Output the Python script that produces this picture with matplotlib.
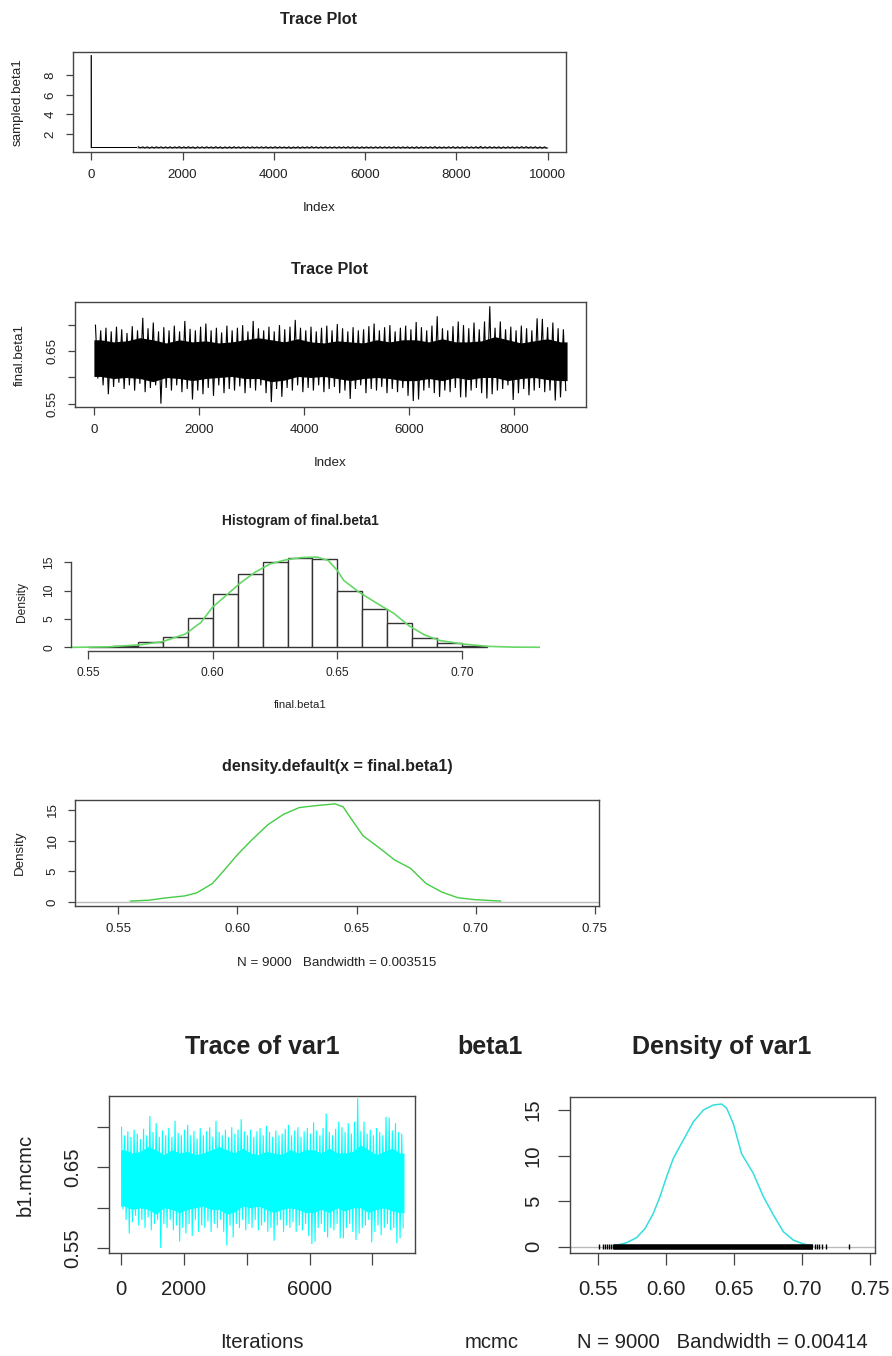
import numpy as np
import matplotlib
matplotlib.use('Agg')
import matplotlib.pyplot as plt

plt.rcParams['font.family'] = ['Liberation Sans', 'DejaVu Sans']

# ---------------- data ----------------
# MCMC trace of final.beta1 (9000 iterations): spike extremes per 100-iteration bin
trace_bin = 100
trace_hi = [0.700, 0.690, 0.695, 0.688, 0.697, 0.692, 0.685, 0.698, 0.690, 0.714,
            0.694, 0.705, 0.688, 0.696, 0.690, 0.699, 0.688, 0.708, 0.693, 0.690,
            0.697, 0.703, 0.690, 0.695, 0.686, 0.699, 0.690, 0.695, 0.700, 0.688,
            0.708, 0.694, 0.690, 0.697, 0.688, 0.700, 0.692, 0.697, 0.710, 0.695,
            0.690, 0.697, 0.688, 0.695, 0.699, 0.690, 0.702, 0.694, 0.688, 0.696,
            0.690, 0.692, 0.698, 0.703, 0.690, 0.696, 0.700, 0.688, 0.695, 0.699,
            0.692, 0.706, 0.696, 0.690, 0.699, 0.717, 0.694, 0.690, 0.698, 0.707,
            0.700, 0.694, 0.705, 0.692, 0.707, 0.736, 0.695, 0.707, 0.692, 0.697,
            0.690, 0.699, 0.694, 0.690, 0.713, 0.712, 0.696, 0.705, 0.694, 0.692]
trace_lo = [0.598, 0.585, 0.568, 0.582, 0.590, 0.578, 0.585, 0.575, 0.588, 0.572,
            0.580, 0.585, 0.550, 0.580, 0.575, 0.585, 0.572, 0.578, 0.558, 0.575,
            0.568, 0.580, 0.565, 0.585, 0.570, 0.578, 0.575, 0.583, 0.570, 0.580,
            0.575, 0.585, 0.570, 0.553, 0.578, 0.563, 0.580, 0.575, 0.585, 0.572,
            0.580, 0.575, 0.585, 0.572, 0.578, 0.582, 0.570, 0.575, 0.559, 0.578,
            0.585, 0.570, 0.578, 0.575, 0.582, 0.570, 0.578, 0.572, 0.580, 0.565,
            0.555, 0.558, 0.575, 0.580, 0.570, 0.563, 0.575, 0.572, 0.580, 0.562,
            0.562, 0.575, 0.580, 0.570, 0.560, 0.568, 0.575, 0.578, 0.585, 0.557,
            0.570, 0.578, 0.566, 0.575, 0.580, 0.572, 0.575, 0.556, 0.562, 0.575]
# dense central band of the trace, per 250-iteration bin
core_bin = 250
core_hi = [0.672, 0.668, 0.670, 0.676, 0.672, 0.666, 0.672, 0.668, 0.670, 0.666, 0.668, 0.672,
           0.676, 0.672, 0.668, 0.674, 0.668, 0.666, 0.670, 0.668, 0.666, 0.672, 0.668, 0.672,
           0.672, 0.668, 0.674, 0.668, 0.668, 0.670, 0.678, 0.672, 0.666, 0.670, 0.674, 0.668]
core_lo = [0.602, 0.598, 0.600, 0.598, 0.592, 0.600, 0.598, 0.594, 0.598, 0.600, 0.602, 0.598,
           0.598, 0.592, 0.595, 0.602, 0.600, 0.602, 0.598, 0.594, 0.598, 0.600, 0.598, 0.594,
           0.594, 0.598, 0.594, 0.600, 0.596, 0.600, 0.600, 0.594, 0.598, 0.600, 0.596, 0.594]

# sampled.beta1 (10000 draws incl. burn-in): starting value then burn-in band
sampled_start_idx = [1, 2]
sampled_start_val = [10.0, 0.63]
burnin_range = (2, 1000)
burnin_lo, burnin_hi = 0.58, 0.69

# histogram of final.beta1
hist_breaks = [0.55, 0.56, 0.57, 0.58, 0.59, 0.60, 0.61, 0.62, 0.63, 0.64, 0.65, 0.66,
               0.67, 0.68, 0.69, 0.70, 0.71]
hist_density = [0.1, 0.3, 0.9, 1.8, 5.1, 9.4, 13.0, 15.1, 15.8, 15.5, 9.9, 6.8, 4.3, 1.6, 0.8, 0.3]
hkde_x = [0.5423, 0.558, 0.5706, 0.5798, 0.589, 0.5953, 0.600, 0.6045, 0.6107, 0.6169, 0.6231,
          0.6293, 0.6355, 0.6417, 0.6463, 0.650, 0.6525, 0.6587, 0.6664, 0.6726, 0.6787, 0.6849,
          0.6911, 0.7004, 0.7097, 0.7205, 0.7435]
hkde_y = [0.0, 0.1, 0.45, 1.0, 2.35, 4.4, 7.1, 8.8, 11.2, 13.2, 14.7, 15.4, 15.8, 15.9, 15.3,
          13.5, 11.8, 9.7, 7.6, 6.0, 3.8, 2.2, 1.2, 0.6, 0.2, 0.05, 0.0]

# density.default(x = final.beta1)
dens_x = [0.5552, 0.563, 0.5696, 0.578, 0.583, 0.5895, 0.5945, 0.600, 0.606, 0.6128, 0.6194,
          0.626, 0.6327, 0.641, 0.6444, 0.6477, 0.6527, 0.6593, 0.666, 0.6726, 0.6792, 0.6859,
          0.6925, 0.6992, 0.7104]
dens_y = [0.15, 0.3, 0.65, 1.0, 1.5, 3.0, 5.2, 7.7, 10.1, 12.6, 14.3, 15.4, 15.7, 16.0, 15.5,
          13.6, 10.8, 8.9, 6.85, 5.5, 3.0, 1.6, 0.7, 0.4, 0.15]

# coda density of var1
cdens_x = [0.5613, 0.571, 0.5784, 0.5846, 0.5907, 0.5956, 0.6005, 0.6054, 0.6127, 0.6201, 0.6275,
           0.6348, 0.6409, 0.6446, 0.6495, 0.6556, 0.6642, 0.6716, 0.6789, 0.6863, 0.6936, 0.701,
           0.7083]
cdens_y = [0.07, 0.44, 1.0, 2.0, 3.66, 5.5, 7.7, 9.7, 11.7, 13.7, 15.0, 15.55, 15.66, 15.2, 13.5,
           10.2, 8.05, 5.5, 3.5, 1.65, 0.73, 0.3, 0.07]
rug_band = (0.562, 0.708)
rug_points = [0.551, 0.5535, 0.555, 0.5565, 0.558, 0.5595, 0.561, 0.7095, 0.711, 0.7125, 0.7145,
              0.7175, 0.7345]

# ---------------- figure ----------------
W, H = 892, 1356
fig = plt.figure(figsize=(W / 100, H / 100), dpi=100)
TXT = '#222222'
BOX = '#444444'
BASE = 9.6
TITLE = 11.6
BIG = 14.6
BIGT = 18


def ax_at(x0, y0, x1, y1):
    return fig.add_axes([x0 / W, 1 - y1 / H, (x1 - x0) / W, (y1 - y0) / H])


def ftext(x, y, s, **kw):
    kw.setdefault('ha', 'center')
    kw.setdefault('va', 'center')
    kw.setdefault('color', TXT)
    fig.text(x / W, 1 - y / H, s, **kw)


def style(ax, fs, tlen, pad):
    for sp in ax.spines.values():
        sp.set_color(BOX)
        sp.set_linewidth(1.0)
    ax.tick_params(direction='out', length=tlen, width=0.9, color=BOX, labelsize=fs,
                   labelcolor=TXT, pad=pad)
    ax.tick_params(axis='y', labelrotation=90)
    for t in ax.get_yticklabels():
        t.set_va('center')


def draw_trace(ax, offset, color, lw):
    n = len(core_hi)
    centers = offset + np.arange(n) * core_bin + core_bin / 2
    xs = np.concatenate([[offset], centers, [offset + n * core_bin]])
    lo = np.concatenate([[core_lo[0]], core_lo, [core_lo[-1]]])
    hi = np.concatenate([[core_hi[0]], core_hi, [core_hi[-1]]])
    ax.fill_between(xs, lo, hi, color=color, lw=0)
    # each 100-iteration bin: path visits its maximum, then its minimum
    m = len(trace_hi)
    starts = offset + np.arange(m) * trace_bin
    zx = np.column_stack([starts + 0.3 * trace_bin, starts + 0.75 * trace_bin]).ravel()
    zy = np.column_stack([trace_hi, trace_lo]).ravel()
    ax.plot(zx, zy, color=color, lw=lw, solid_joinstyle='miter')


# ---- panel 1: sampled.beta1 trace ----
ax1 = ax_at(73, 52, 566, 152)
ax1.plot(sampled_start_idx, sampled_start_val, color='black', lw=0.9)
ax1.fill_between(burnin_range, [burnin_lo] * 2, [burnin_hi] * 2, color='black', lw=0)
draw_trace(ax1, 1000, 'black', 0.8)
ax1.set_xlim(-399, 10400)
ax1.set_ylim(0.17, 10.38)
ax1.set_xticks([0, 2000, 4000, 6000, 8000, 10000])
ax1.set_yticks([2, 4, 6, 8])
style(ax1, BASE, 5.4, 6.5)
ftext(319, 20, 'Trace Plot', fontsize=TITLE, fontweight='bold')
ftext(319, 208, 'Index', fontsize=BASE)
ftext(18, 102, 'sampled.beta1', fontsize=BASE, rotation=90)

# ---- panel 2: final.beta1 trace ----
ax2 = ax_at(75, 302, 586, 407)
draw_trace(ax2, 0, 'black', 0.8)
ax2.set_xlim(-359, 9360)
ax2.set_ylim(0.5436, 0.7442)
ax2.set_xticks([0, 2000, 4000, 6000, 8000])
ax2.set_yticks([0.55, 0.60, 0.65, 0.70])
ax2.set_yticklabels(['0.55', '', '0.65', ''])
style(ax2, BASE, 5.4, 6.5)
ftext(330, 270, 'Trace Plot', fontsize=TITLE, fontweight='bold')
ftext(330, 463, 'Index', fontsize=BASE)
ftext(20, 355, 'final.beta1', fontsize=BASE, rotation=90)

# ---- panel 3: histogram ----
ax3 = ax_at(71, 554, 540, 651)
widths = np.diff(hist_breaks)
ax3.bar(hist_breaks[:-1], hist_density, width=widths, align='edge', facecolor='white',
        edgecolor='#333333', lw=1.0)
ax3.plot(hkde_x, hkde_y, color='#66d866', lw=1.2)
ax3.set_xlim(0.5432, 0.7312)
ax3.set_ylim(-0.63, 16.43)
ax3.spines['top'].set_visible(False)
ax3.spines['right'].set_visible(False)
ax3.spines['left'].set_bounds(0, 15)
ax3.spines['bottom'].set_bounds(0.55, 0.70)
ax3.set_xticks([0.55, 0.60, 0.65, 0.70])
ax3.set_yticks([0, 5, 10, 15])
style(ax3, BASE * 0.9, 5.4, 6)
ftext(300, 521, 'Histogram of final.beta1', fontsize=TITLE * 0.85, fontweight='bold')
ftext(300, 705, 'final.beta1', fontsize=BASE * 0.85)
ftext(22, 602, 'Density', fontsize=BASE * 0.9, rotation=90)

# ---- panel 4: density ----
ax4 = ax_at(75, 800, 599, 906)
ax4.axhline(0, color='#bbbbbb', lw=1.0)
ax4.plot(dens_x, dens_y, color='#44cc44', lw=1.0)
ax4.set_xlim(0.5319, 0.7517)
ax4.set_ylim(-0.65, 16.63)
ax4.set_xticks([0.55, 0.60, 0.65, 0.70, 0.75])
ax4.set_yticks([0, 5, 10, 15])
style(ax4, BASE, 5.4, 6.5)
ftext(337, 767, 'density.default(x = final.beta1)', fontsize=TITLE, fontweight='bold')
ftext(337, 963, 'N = 9000   Bandwidth = 0.003515', fontsize=BASE)
ftext(20, 853, 'Density', fontsize=BASE, rotation=90)

# ---- panel 5a: coda trace ----
ax5 = ax_at(109, 1096, 415, 1253)
draw_trace(ax5, 0, '#00ffff', 0.8)
ax5.set_xlim(-368, 9350)
ax5.set_ylim(0.5438, 0.7388)
ax5.set_xticks([0, 2000, 4000, 6000, 8000])
ax5.set_xticklabels(['0', '2000', '', '6000', ''])
ax5.set_yticks([0.55, 0.60, 0.65, 0.70])
ax5.set_yticklabels(['0.55', '', '0.65', ''])
style(ax5, BIG, 8.6, 11)
ftext(262, 1047, 'Trace of var1', fontsize=BIGT, fontweight='bold')
ftext(262, 1342, 'Iterations', fontsize=BIG)
ftext(25, 1175, 'b1.mcmc', fontsize=BIG, rotation=90)

# ---- panel 5b: coda density ----
ax6 = ax_at(570, 1097, 875, 1253)
ax6.axhline(0, color='#bbbbbb', lw=1.0)
ax6.plot(cdens_x, cdens_y, color='#33dede', lw=1.1)
ax6.hlines(0, rug_band[0], rug_band[1], color='black', lw=4)
ax6.vlines(rug_points, -0.28, 0.28, color='black', lw=1.0)
ax6.set_xlim(0.5294, 0.7537)
ax6.set_ylim(-0.69, 16.43)
ax6.set_xticks([0.55, 0.60, 0.65, 0.70, 0.75])
ax6.set_yticks([0, 5, 10, 15])
style(ax6, BIG, 8.6, 11)
ftext(722, 1047, 'Density of var1', fontsize=BIGT, fontweight='bold')
ftext(722, 1342, 'N = 9000   Bandwidth = 0.00414', fontsize=BIG)
ftext(490, 1047, 'beta1', fontsize=BIGT, fontweight='bold')
ftext(492, 1342, 'mcmc', fontsize=BIG)

fig.savefig('out.png', dpi=100)
